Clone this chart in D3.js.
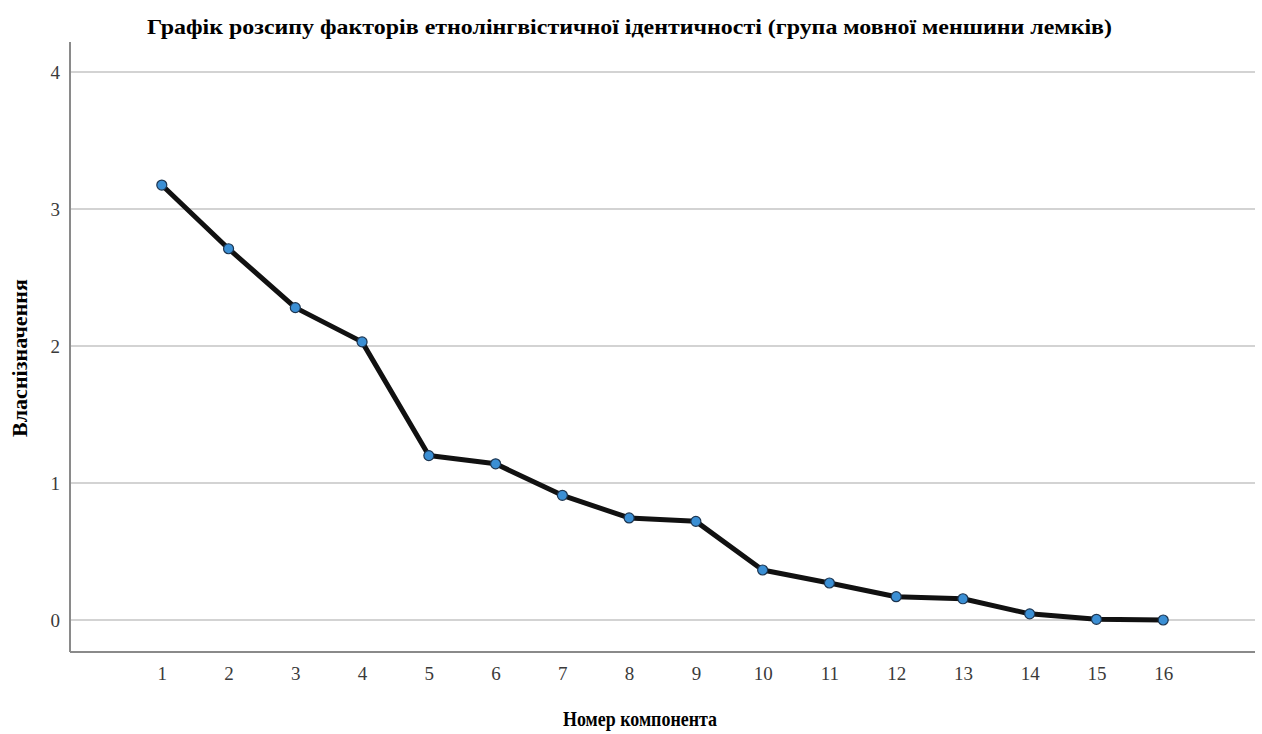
<!DOCTYPE html>
<html>
<head>
<meta charset="utf-8">
<script src="https://cdn.jsdelivr.net/npm/d3@7"></script>
<style>
  body { margin: 0; background: #fff; }
  text { font-family: "Liberation Serif", "DejaVu Serif", serif; }
</style>
</head>
<body>
<div id="chart"></div>
<script>
// scree plot data
const components = [1,2,3,4,5,6,7,8,9,10,11,12,13,14,15,16];
const eigenvalues = [3.175,2.71,2.28,2.03,1.20,1.14,0.91,0.745,0.72,0.365,0.27,0.17,0.155,0.045,0.005,0.0];
const yTicks = [0,1,2,3,4];

const width = 1262, height = 734;
const margin = {top:42, right:7, bottom:82, left:70};

const svg = d3.select("#chart").append("svg")
  .attr("width", width).attr("height", height);

const x = d3.scaleLinear()
  .domain([1-1.375, 16+1.375])
  .range([margin.left, width-margin.right]);
const y = d3.scaleLinear()
  .domain([0, 4])
  .range([620, 72]);

// grid
svg.append("g")
  .selectAll("line")
  .data(yTicks)
  .enter().append("line")
  .attr("x1", margin.left).attr("x2", width-margin.right)
  .attr("y1", d=>y(d)).attr("y2", d=>y(d))
  .attr("stroke", "#c4c4c4")
  .attr("stroke-width", 1.5);

// axes
const yAxis = svg.append("g")
  .attr("transform", `translate(${margin.left},0)`)
  .call(d3.axisLeft(y).tickValues(yTicks).tickFormat(d3.format("d")).tickSize(0).tickPadding(10));
const xAxis = svg.append("g")
  .attr("transform", `translate(0,${height-margin.bottom})`)
  .call(d3.axisBottom(x).tickValues(components).tickFormat(d3.format("d")).tickSize(0).tickPadding(15));

[yAxis, xAxis].forEach(a => {
  a.select(".domain").remove();
  a.attr("font-family", null).attr("font-size", null);
  a.selectAll("text")
    .style("font-family", "'Liberation Serif', serif")
    .style("font-size", "19px")
    .attr("fill", "#3a3a3a");
});

svg.append("line")
  .attr("x1", margin.left).attr("x2", margin.left)
  .attr("y1", margin.top).attr("y2", height-margin.bottom)
  .attr("stroke", "#8a8a8a").attr("stroke-width", 2);
svg.append("line")
  .attr("x1", margin.left).attr("x2", width-margin.right)
  .attr("y1", height-margin.bottom).attr("y2", height-margin.bottom)
  .attr("stroke", "#8a8a8a").attr("stroke-width", 2);

// line + points
const line = d3.line()
  .x((d,i)=>x(components[i]))
  .y(d=>y(d));

svg.append("path")
  .datum(eigenvalues)
  .attr("d", line)
  .attr("fill", "none")
  .attr("stroke", "#111")
  .attr("stroke-width", 5)
  .attr("stroke-linejoin", "round");

svg.selectAll("circle.pt")
  .data(eigenvalues)
  .enter().append("circle")
  .attr("class", "pt")
  .attr("cx", (d,i)=>x(components[i]))
  .attr("cy", d=>y(d))
  .attr("r", 5)
  .attr("fill", "#3b8fd4")
  .attr("stroke", "#1d3550")
  .attr("stroke-width", 1.2);

// titles
svg.append("text")
  .attr("x", 147).attr("y", 34)
  .attr("textLength", 965)
  .attr("lengthAdjust", "spacingAndGlyphs")
  .style("font-size", "22px")
  .style("font-weight", "bold")
  .text("Графік розсипу факторів етнолінгвістичної ідентичності (група мовної меншини лемків)");

svg.append("text")
  .attr("x", 563).attr("y", 726)
  .attr("textLength", 154)
  .attr("lengthAdjust", "spacingAndGlyphs")
  .style("font-size", "21px")
  .style("font-weight", "bold")
  .text("Номер компонента");

svg.append("text")
  .attr("transform", "translate(27,437) rotate(-90)")
  .attr("textLength", 158)
  .attr("lengthAdjust", "spacingAndGlyphs")
  .style("font-size", "21px")
  .style("font-weight", "bold")
  .text("Власнізначення");
</script>
</body>
</html>
